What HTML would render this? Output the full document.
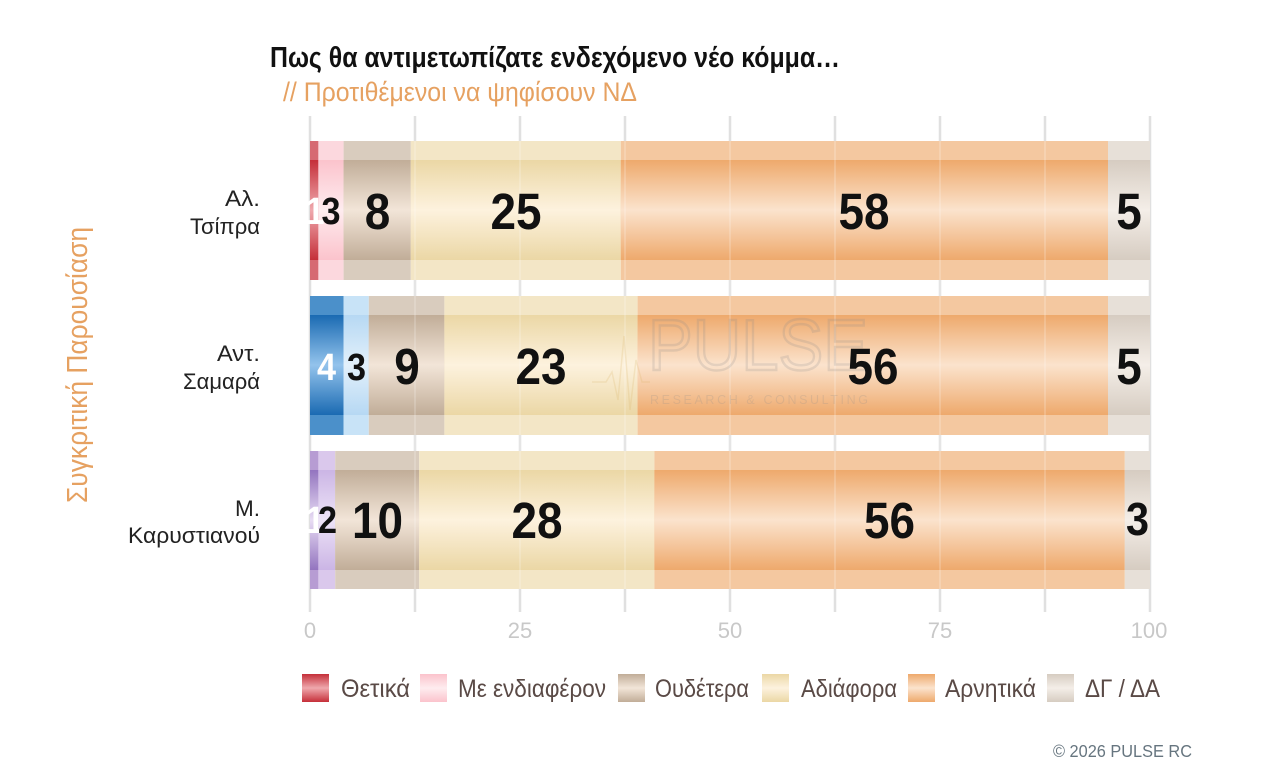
<!DOCTYPE html>
<html>
<head>
<meta charset="utf-8">
<style>
  html,body{margin:0;padding:0;background:#fff;}
  svg{display:block;}
  text{font-family:"Liberation Sans Narrow","Liberation Sans",sans-serif;}
</style>
</head>
<body>
<svg width="1263" height="769" viewBox="0 0 1263 769" xmlns="http://www.w3.org/2000/svg">
  <defs>
    <linearGradient id="g-red" x1="0" y1="0" x2="0" y2="1">
      <stop offset="0" stop-color="#c52f39"/><stop offset="0.5" stop-color="#efa8ad"/><stop offset="1" stop-color="#c52f39"/>
    </linearGradient>
    <linearGradient id="g-pink" x1="0" y1="0" x2="0" y2="1">
      <stop offset="0" stop-color="#fbc3cc"/><stop offset="0.5" stop-color="#feecef"/><stop offset="1" stop-color="#fbc3cc"/>
    </linearGradient>
    <linearGradient id="g-tan" x1="0" y1="0" x2="0" y2="1">
      <stop offset="0" stop-color="#c1ad98"/><stop offset="0.5" stop-color="#f2e5d8"/><stop offset="1" stop-color="#c1ad98"/>
    </linearGradient>
    <linearGradient id="g-beige" x1="0" y1="0" x2="0" y2="1">
      <stop offset="0" stop-color="#ebd7a5"/><stop offset="0.5" stop-color="#fdf2de"/><stop offset="1" stop-color="#ebd7a5"/>
    </linearGradient>
    <linearGradient id="g-orange" x1="0" y1="0" x2="0" y2="1">
      <stop offset="0" stop-color="#eea96c"/><stop offset="0.5" stop-color="#fbe3cd"/><stop offset="1" stop-color="#eea96c"/>
    </linearGradient>
    <linearGradient id="g-gray" x1="0" y1="0" x2="0" y2="1">
      <stop offset="0" stop-color="#d6ccc1"/><stop offset="0.5" stop-color="#f4eee8"/><stop offset="1" stop-color="#d6ccc1"/>
    </linearGradient>
    <linearGradient id="g-blue" x1="0" y1="0" x2="0" y2="1">
      <stop offset="0" stop-color="#1a6ab2"/><stop offset="0.5" stop-color="#93c3ec"/><stop offset="1" stop-color="#1a6ab2"/>
    </linearGradient>
    <linearGradient id="g-lblue" x1="0" y1="0" x2="0" y2="1">
      <stop offset="0" stop-color="#b6d8f3"/><stop offset="0.5" stop-color="#e2f0fb"/><stop offset="1" stop-color="#b6d8f3"/>
    </linearGradient>
    <linearGradient id="g-purple" x1="0" y1="0" x2="0" y2="1">
      <stop offset="0" stop-color="#9374bf"/><stop offset="0.5" stop-color="#e8dcf4"/><stop offset="1" stop-color="#9374bf"/>
    </linearGradient>
    <linearGradient id="g-lpurple" x1="0" y1="0" x2="0" y2="1">
      <stop offset="0" stop-color="#cbb5e5"/><stop offset="0.5" stop-color="#ede3f7"/><stop offset="1" stop-color="#cbb5e5"/>
    </linearGradient>
  </defs>

  <!-- Title -->
  <text x="270" y="67" font-size="29" font-weight="bold" fill="#111" textLength="570" lengthAdjust="spacingAndGlyphs">Πως θα αντιμετωπίζατε ενδεχόμενο νέο κόμμα…</text>
  <text x="283" y="101" font-size="27" fill="#e6a161" textLength="354" lengthAdjust="spacingAndGlyphs">// Προτιθέμενοι να ψηφίσουν ΝΔ</text>

  <!-- Y axis title -->
  <text transform="translate(87,365) rotate(-90)" x="0" y="0" text-anchor="middle" font-size="29" fill="#e6a161" textLength="276" lengthAdjust="spacingAndGlyphs">Συγκριτική  Παρουσίαση</text>

  <!-- Gridlines -->
  <g stroke="#e0e0e0" stroke-width="2.5">
    <line x1="310" y1="116" x2="310" y2="612"/>
    <line x1="415" y1="116" x2="415" y2="612"/>
    <line x1="520" y1="116" x2="520" y2="612"/>
    <line x1="625" y1="116" x2="625" y2="612"/>
    <line x1="730" y1="116" x2="730" y2="612"/>
    <line x1="835" y1="116" x2="835" y2="612"/>
    <line x1="940" y1="116" x2="940" y2="612"/>
    <line x1="1045" y1="116" x2="1045" y2="612"/>
    <line x1="1150" y1="116" x2="1150" y2="612"/>
  </g>

  <!-- Bar 1: y 141 - 280 -->
  <g>
    <rect x="310" y="141" width="8.4" height="139" fill="#d66a72"/>
    <rect x="310" y="160" width="8.4" height="100" fill="url(#g-red)"/>
    <rect x="318.4" y="141" width="25.2" height="139" fill="#fcd8de"/>
    <rect x="318.4" y="160" width="25.2" height="100" fill="url(#g-pink)"/>
    <rect x="343.6" y="141" width="67.2" height="139" fill="#d9ccbe"/>
    <rect x="343.6" y="160" width="67.2" height="100" fill="url(#g-tan)"/>
    <rect x="410.8" y="141" width="210" height="139" fill="#f3e6c6"/>
    <rect x="410.8" y="160" width="210" height="100" fill="url(#g-beige)"/>
    <rect x="620.8" y="141" width="487.2" height="139" fill="#f4c8a0"/>
    <rect x="620.8" y="160" width="487.2" height="100" fill="url(#g-orange)"/>
    <rect x="1108" y="141" width="42" height="139" fill="#e7e0d8"/>
    <rect x="1108" y="160" width="42" height="100" fill="url(#g-gray)"/>
  </g>

  <!-- Bar 2: y 296 - 435 -->
  <g>
    <rect x="310" y="296" width="33.6" height="139" fill="#4b90ca"/>
    <rect x="310" y="315" width="33.6" height="100" fill="url(#g-blue)"/>
    <rect x="343.6" y="296" width="25.2" height="139" fill="#c8e3f7"/>
    <rect x="343.6" y="315" width="25.2" height="100" fill="url(#g-lblue)"/>
    <rect x="368.8" y="296" width="75.6" height="139" fill="#d9ccbe"/>
    <rect x="368.8" y="315" width="75.6" height="100" fill="url(#g-tan)"/>
    <rect x="444.4" y="296" width="193.2" height="139" fill="#f3e6c6"/>
    <rect x="444.4" y="315" width="193.2" height="100" fill="url(#g-beige)"/>
    <rect x="637.6" y="296" width="470.4" height="139" fill="#f4c8a0"/>
    <rect x="637.6" y="315" width="470.4" height="100" fill="url(#g-orange)"/>
    <rect x="1108" y="296" width="42" height="139" fill="#e7e0d8"/>
    <rect x="1108" y="315" width="42" height="100" fill="url(#g-gray)"/>
  </g>

  <!-- Bar 3: y 451 - 589 -->
  <g>
    <rect x="310" y="451" width="8.4" height="138" fill="#b79cd3"/>
    <rect x="310" y="470" width="8.4" height="100" fill="url(#g-purple)"/>
    <rect x="318.4" y="451" width="16.8" height="138" fill="#dac8ec"/>
    <rect x="318.4" y="470" width="16.8" height="100" fill="url(#g-lpurple)"/>
    <rect x="335.2" y="451" width="84" height="138" fill="#d9ccbe"/>
    <rect x="335.2" y="470" width="84" height="100" fill="url(#g-tan)"/>
    <rect x="419.2" y="451" width="235.2" height="138" fill="#f3e6c6"/>
    <rect x="419.2" y="470" width="235.2" height="100" fill="url(#g-beige)"/>
    <rect x="654.4" y="451" width="470.4" height="138" fill="#f4c8a0"/>
    <rect x="654.4" y="470" width="470.4" height="100" fill="url(#g-orange)"/>
    <rect x="1124.8" y="451" width="25.2" height="138" fill="#e7e0d8"/>
    <rect x="1124.8" y="470" width="25.2" height="100" fill="url(#g-gray)"/>
  </g>

  <!-- faint gridlines over bars -->
  <g stroke="#ffffff" stroke-opacity="0.18" stroke-width="2">
    <line x1="415" y1="141" x2="415" y2="589"/>
    <line x1="520" y1="141" x2="520" y2="589"/>
    <line x1="625" y1="141" x2="625" y2="589"/>
    <line x1="730" y1="141" x2="730" y2="589"/>
    <line x1="835" y1="141" x2="835" y2="589"/>
    <line x1="940" y1="141" x2="940" y2="589"/>
    <line x1="1045" y1="141" x2="1045" y2="589"/>
  </g>

  <!-- Watermark -->
  <g opacity="0.2">
    <polyline points="592,382 606,382 612,372 618,400 624,336 630,410 636,360 642,382 650,382" fill="none" stroke="#d9b060" stroke-width="1.5"/>
    <text x="648" y="370" font-size="72" fill="none" stroke="#8a8a8a" stroke-width="2.5" textLength="220" lengthAdjust="spacingAndGlyphs" style="font-family:'Liberation Sans',sans-serif">PULSE</text>
    <text x="650" y="404" font-size="12.5" fill="#8a8a8a" textLength="218" lengthAdjust="spacing" style="font-family:'Liberation Sans',sans-serif">RESEARCH &amp; CONSULTING</text>
  </g>

  <!-- Value labels -->
  <g font-weight="bold" text-anchor="middle" style="font-family:'Liberation Sans',sans-serif">
    <!-- bar 1, center 210.5 -->
    <text transform="translate(315,224) scale(0.9,1)" font-size="38" fill="#fff">1</text>
    <text transform="translate(331,224) scale(0.9,1)" font-size="38" fill="#111">3</text>
    <text transform="translate(377.5,229) scale(0.9,1)" font-size="51" fill="#111">8</text>
    <text transform="translate(516,229) scale(0.9,1)" font-size="51" fill="#111">25</text>
    <text transform="translate(864,229) scale(0.9,1)" font-size="51" fill="#111">58</text>
    <text transform="translate(1129,229) scale(0.9,1)" font-size="51" fill="#111">5</text>
    <!-- bar 2, center 365.5 -->
    <text transform="translate(326.5,380) scale(0.9,1)" font-size="38" fill="#fff">4</text>
    <text transform="translate(356.5,380) scale(0.9,1)" font-size="38" fill="#111">3</text>
    <text transform="translate(407,384) scale(0.9,1)" font-size="51" fill="#111">9</text>
    <text transform="translate(541,384) scale(0.9,1)" font-size="51" fill="#111">23</text>
    <text transform="translate(873,384) scale(0.9,1)" font-size="51" fill="#111">56</text>
    <text transform="translate(1129,384) scale(0.9,1)" font-size="51" fill="#111">5</text>
    <!-- bar 3, center 520 -->
    <text transform="translate(315,533) scale(0.9,1)" font-size="38" fill="#fff">1</text>
    <text transform="translate(327.5,533) scale(0.9,1)" font-size="38" fill="#111">2</text>
    <text transform="translate(377.5,538) scale(0.9,1)" font-size="51" fill="#111">10</text>
    <text transform="translate(537,538) scale(0.9,1)" font-size="51" fill="#111">28</text>
    <text transform="translate(889.5,538) scale(0.9,1)" font-size="51" fill="#111">56</text>
    <text transform="translate(1137.5,535) scale(0.9,1)" font-size="46" fill="#111">3</text>
  </g>

  <!-- Category labels -->
  <g font-size="22" fill="#222" text-anchor="end">
    <text x="260" y="206" textLength="35" lengthAdjust="spacingAndGlyphs">Αλ.</text>
    <text x="260" y="234" textLength="70" lengthAdjust="spacingAndGlyphs">Τσίπρα</text>
    <text x="260" y="361" textLength="43" lengthAdjust="spacingAndGlyphs">Αντ.</text>
    <text x="260" y="389" textLength="77" lengthAdjust="spacingAndGlyphs">Σαμαρά</text>
    <text x="260" y="516" textLength="25" lengthAdjust="spacingAndGlyphs">Μ.</text>
    <text x="260" y="543" textLength="132" lengthAdjust="spacingAndGlyphs">Καρυστιανού</text>
  </g>

  <!-- X axis labels -->
  <g font-size="22" fill="#c8c8c8" text-anchor="middle">
    <text x="310" y="638">0</text>
    <text x="520" y="638">25</text>
    <text x="730" y="638">50</text>
    <text x="940" y="638">75</text>
    <text x="1149" y="638">100</text>
  </g>

  <!-- Legend -->
  <g>
    <rect x="302" y="674" width="27" height="28" fill="url(#g-red)"/>
    <text x="341" y="697" font-size="25" fill="#5a4a46" textLength="69" lengthAdjust="spacingAndGlyphs">Θετικά</text>
    <rect x="420" y="674" width="27" height="28" fill="url(#g-pink)"/>
    <text x="458" y="697" font-size="25" fill="#5a4a46" textLength="148" lengthAdjust="spacingAndGlyphs">Με ενδιαφέρον</text>
    <rect x="618" y="674" width="27" height="28" fill="url(#g-tan)"/>
    <text x="655" y="697" font-size="25" fill="#5a4a46" textLength="94" lengthAdjust="spacingAndGlyphs">Ουδέτερα</text>
    <rect x="762" y="674" width="27" height="28" fill="url(#g-beige)"/>
    <text x="801" y="697" font-size="25" fill="#5a4a46" textLength="96" lengthAdjust="spacingAndGlyphs">Αδιάφορα</text>
    <rect x="908" y="674" width="27" height="28" fill="url(#g-orange)"/>
    <text x="945" y="697" font-size="25" fill="#5a4a46" textLength="91" lengthAdjust="spacingAndGlyphs">Αρνητικά</text>
    <rect x="1047" y="674" width="27" height="28" fill="url(#g-gray)"/>
    <text x="1085" y="697" font-size="25" fill="#5a4a46" textLength="75" lengthAdjust="spacingAndGlyphs">ΔΓ / ΔΑ</text>
  </g>

  <!-- Footer -->
  <text x="1053" y="757" font-size="17.5" fill="#66757f" textLength="139" lengthAdjust="spacingAndGlyphs">©  2026  PULSE RC</text>
</svg>
</body>
</html>
